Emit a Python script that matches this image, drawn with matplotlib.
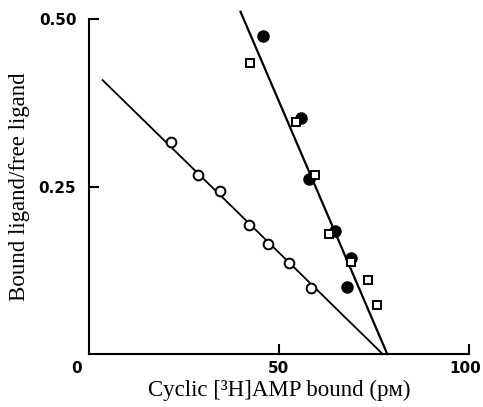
import matplotlib
matplotlib.use("Agg")
import matplotlib.pyplot as plt

# open circles and their fitted line
open_x = [21.6, 28.6, 34.6, 42.0, 47.2, 52.6, 58.4]
open_y = [0.316, 0.268, 0.244, 0.193, 0.164, 0.136, 0.099]
line1_x = [3.6, 77.3]
line1_y = [0.409, 0.0]

# filled circles
filled_x = [45.7, 55.7, 57.9, 64.7, 68.9, 67.8]
filled_y = [0.475, 0.352, 0.261, 0.184, 0.143, 0.0995]

# open squares
square_x = [42.5, 54.6, 59.4, 63.2, 69.0, 73.3, 75.9]
square_y = [0.435, 0.347, 0.267, 0.179, 0.137, 0.111, 0.074]

# steep fitted line
line2_x = [39.9, 78.5]
line2_y = [0.511, 0.0]

serif = ["Liberation Serif", "DejaVu Serif"]

fig = plt.figure(figsize=(4.83, 4.07), dpi=100)
ax = fig.add_axes([0.184, 0.130, 0.787, 0.823])

ax.plot(line1_x, line1_y, color="black", linewidth=1.3, clip_on=False)
ax.plot(line2_x, line2_y, color="black", linewidth=1.6, clip_on=False)

ax.plot(open_x, open_y, "o", markersize=7, markerfacecolor="white",
        markeredgecolor="black", markeredgewidth=1.4, clip_on=False)
ax.plot(filled_x, filled_y, "o", markersize=8, color="black", clip_on=False)
ax.plot(square_x, square_y, "s", markersize=6, markerfacecolor="white",
        markeredgecolor="black", markeredgewidth=1.4, clip_on=False)

ax.set_xlim(0, 100)
ax.set_ylim(0, 0.5)

for s in ["top", "right"]:
    ax.spines[s].set_visible(False)
for s in ["left", "bottom"]:
    ax.spines[s].set_linewidth(1.5)

ax.set_xticks([50, 100])
ax.set_xticklabels(["50", ""])
ax.set_yticks([0.25, 0.5])
ax.set_yticklabels(["0.25", "0.50"])
ax.tick_params(direction="in", length=7, width=1.5, labelsize=11)
ax.tick_params(axis="x", pad=5)
ax.tick_params(axis="y", pad=9)
for lab in ax.get_xticklabels() + ax.get_yticklabels():
    lab.set_fontweight("bold")

# origin and right-edge labels placed by hand so they stay inside the figure
ax.text(-3.2, -0.022, "0", fontsize=11, fontweight="bold",
        ha="center", va="center", clip_on=False)
ax.text(99.0, -0.022, "100", fontsize=11, fontweight="bold",
        ha="center", va="center", clip_on=False)

ax.set_xlabel("Cyclic [\u00b3H]AMP bound (p\u1d0d)", family=serif,
              fontsize=16.5, labelpad=3)
ax.set_ylabel("Bound ligand/free ligand", family=serif,
              fontsize=16.5, labelpad=6)

fig.savefig("out.png", dpi=100)
